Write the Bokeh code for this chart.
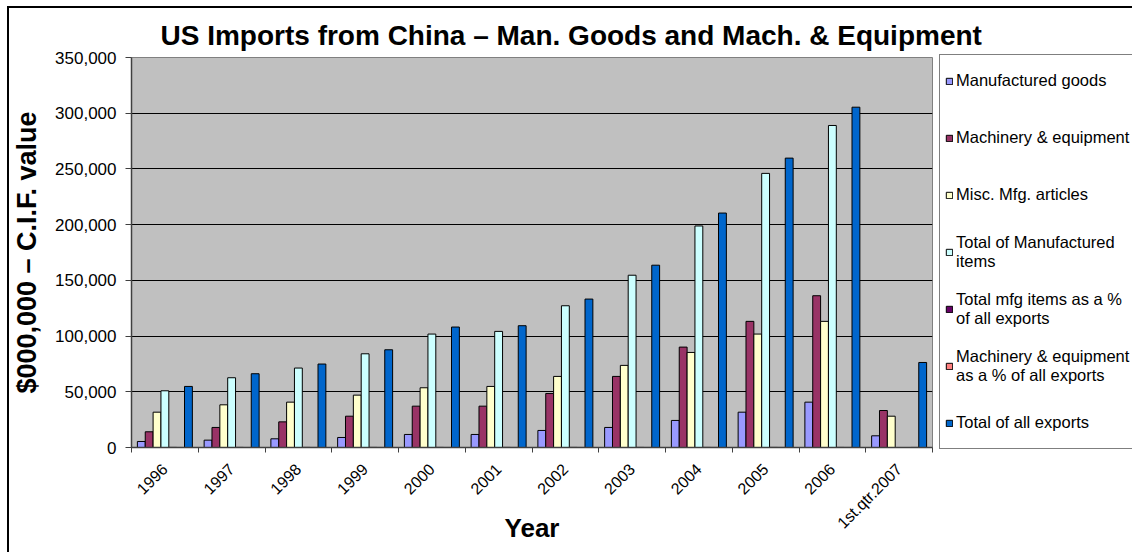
import math

from bokeh.embed import file_html
from bokeh.models import (ColumnDataSource, FixedTicker, Legend, LegendItem,
                          NumeralTickFormatter, Range1d, Title)
from bokeh.plotting import figure
from bokeh.resources import INLINE
from bokeh.transform import dodge

nan = float("nan")

# Import values in $000,000 (C.I.F.), per year
years = ["1996", "1997", "1998", "1999", "2000", "2001", "2002", "2003",
         "2004", "2005", "2006", "1st.qtr.2007"]
manufactured_goods = [5400, 6600, 7800, 9000, 11700, 11700, 15300, 18000,
                      24300, 31700, 40700, 10500]
machinery_equipment = [14100, 18000, 23000, 28100, 37100, 37100, 48500, 63800,
                       90100, 113200, 136200, 33200]
misc_mfg_articles = [31700, 38300, 40700, 47000, 53600, 54800, 63800, 73700,
                     85300, 101800, 113200, 28100]
total_manufactured = [50900, 62600, 71300, 84100, 101800, 104200, 127200, 154600,
                      198800, 246000, 289000, nan]
total_mfg_pct = [93, 95, 95, 96, 94, 95, 95, 94, 94, 95, 95, nan]
mach_equip_pct = [26, 27, 31, 32, 34, 34, 36, 39, 43, 44, 45, 44]
total_exports = [54800, 66200, 74900, 87700, 108100, 109300, 133200, 163600,
                 210400, 259700, 305400, 76300]

series_names = [
    "Manufactured goods",
    "Machinery & equipment",
    "Misc. Mfg. articles",
    "Total of Manufactured\nitems",
    "Total mfg items as a %\nof all exports",
    "Machinery & equipment\nas a % of all exports",
    "Total of all exports",
]
series_values = [manufactured_goods, machinery_equipment, misc_mfg_articles,
                 total_manufactured, total_mfg_pct, mach_equip_pct, total_exports]
series_colors = ["#9999FF", "#993366", "#FFFFCC", "#CCFFFF", "#660066",
                 "#FF8080", "#0066CC"]

FONT = "Liberation Sans"
n_cat = len(years)
idx = list(range(n_cat))

p = figure(frame_width=801, frame_height=390,
           x_range=Range1d(-0.5, n_cat - 0.5), y_range=Range1d(0, 350000),
           output_backend="svg", toolbar_location=None,
           min_border_left=122, min_border_right=200,
           min_border_top=49, min_border_bottom=105)

# Chart border (left and top edges; the rest runs off the page)
p.styles = {"margin-left": "7px", "margin-top": "6px",
            "border-left": "2px solid black", "border-top": "2px solid black"}

p.background_fill_color = "#C0C0C0"
p.border_fill_color = "white"
p.outline_line_color = "#808080"
p.outline_line_width = 1

title = Title(text="US Imports from China \u2013 Man. Goods and Mach. & Equipment",
              align="left", offset=29, standoff=13,
              text_font=FONT, text_font_size="28px", text_font_style="bold",
              text_color="black")
p.add_layout(title, "above")

# Clustered columns: 7 bars per year, gap of 1.5 bar widths between groups
bar_w = 1.0 / 8.5
items = []
for i, (name, vals, col) in enumerate(zip(series_names, series_values, series_colors)):
    src = ColumnDataSource(dict(idx=idx, top=vals))
    off = -0.5 + (0.75 + i + 0.5) * bar_w
    r = p.vbar(x=dodge("idx", off, range=p.x_range), top="top", bottom=0,
               width=bar_w, source=src, fill_color=col, line_color="black",
               line_width=1)
    items.append(LegendItem(label=name, renderers=[r]))

# Y axis
p.yaxis.ticker = FixedTicker(ticks=list(range(0, 350001, 50000)))
p.yaxis.formatter = NumeralTickFormatter(format="0,0")
p.yaxis.axis_label = "$000,000 \u2013 C.I.F. value"
p.yaxis.axis_label_text_font = FONT
p.yaxis.axis_label_text_font_size = "27px"
p.yaxis.axis_label_text_font_style = "bold"
p.yaxis.axis_label_text_color = "black"
p.yaxis.axis_label_standoff = 10
p.yaxis.major_label_text_font = FONT
p.yaxis.major_label_text_font_size = "17px"
p.yaxis.major_label_text_color = "black"
p.yaxis.major_label_standoff = 9
p.yaxis.major_tick_out = 6
p.yaxis.major_tick_in = 0
p.yaxis.minor_tick_line_color = None
p.yaxis.axis_line_color = "#404040"
p.yaxis.axis_line_width = 1.5
p.yaxis.major_tick_line_color = "#404040"

# X axis: labels centred on each year, tick marks between years
p.xaxis.ticker = FixedTicker(ticks=idx,
                             minor_ticks=[k - 0.5 for k in range(n_cat + 1)])
p.xaxis.major_label_overrides = {k: y for k, y in enumerate(years)}
p.xaxis.major_label_orientation = math.pi / 4
p.xaxis.major_label_text_font = FONT
p.xaxis.major_label_text_font_size = "16px"
p.xaxis.major_label_text_color = "black"
p.xaxis.major_label_standoff = 14
p.xaxis.major_tick_in = 0
p.xaxis.major_tick_out = 0
p.xaxis.minor_tick_in = 0
p.xaxis.minor_tick_out = 5
p.xaxis.minor_tick_line_color = "#404040"
p.xaxis.axis_line_color = "#404040"
p.xaxis.axis_line_width = 1.5
p.xaxis.axis_label = "Year"
p.xaxis.axis_label_text_font = FONT
p.xaxis.axis_label_text_font_size = "26px"
p.xaxis.axis_label_text_font_style = "bold"
p.xaxis.axis_label_text_color = "black"
p.xaxis.axis_label_standoff = -28

p.xgrid.grid_line_color = None
p.ygrid.grid_line_color = "black"
p.ygrid.grid_line_width = 1

legend = Legend(items=items, location=(7, -2),
                border_line_color="black", border_line_width=1,
                background_fill_color="white", background_fill_alpha=1,
                padding=5, spacing=16, margin=0,
                label_height=41,
                glyph_width=8, glyph_height=8, label_standoff=3,
                label_text_font=FONT, label_text_font_size="16.5px",
                label_text_color="black")
p.add_layout(legend, "right")

open("out.html", "w").write(file_html(p, INLINE))
